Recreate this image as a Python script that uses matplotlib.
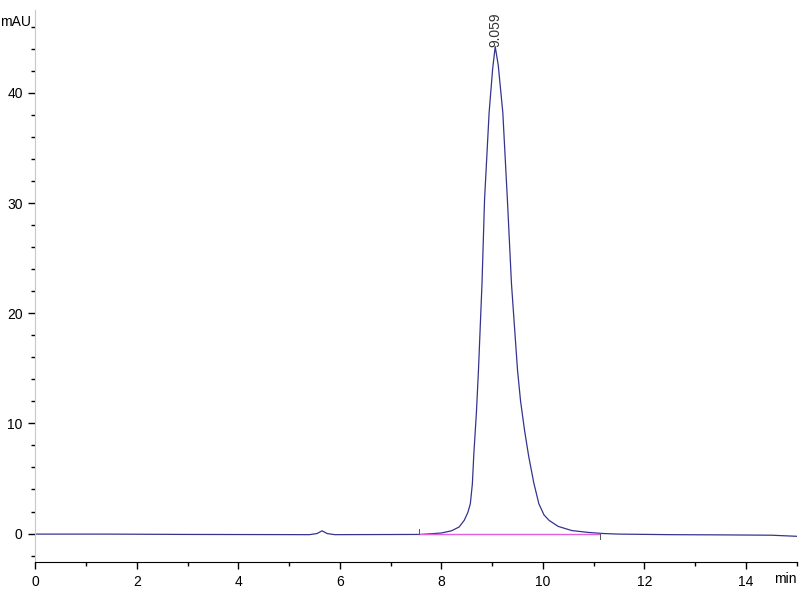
import matplotlib.pyplot as plt
from matplotlib.ticker import MultipleLocator

plt.rcParams["font.family"] = ["Liberation Sans", "DejaVu Sans"]

# chromatogram trace (min, mAU)
time_min = [0.0, 1.4, 3.0, 5.4, 5.55, 5.65, 5.75, 5.9, 7.6, 8.0, 8.2, 8.35,
            8.45, 8.52, 8.57, 8.61, 8.64, 8.69, 8.73, 8.80, 8.85, 8.94, 9.01,
            9.06, 9.12, 9.21, 9.30, 9.38, 9.50, 9.56, 9.64, 9.72, 9.82, 9.92,
            10.02, 10.12, 10.30, 10.57, 10.9, 11.2, 11.5, 12.5, 13.5, 14.5, 15.0]
signal_mau = [-0.05, -0.05, -0.08, -0.1, 0.0, 0.25, 0.0, -0.1, -0.08, 0.05,
              0.25, 0.6, 1.2, 1.9, 2.7, 4.5, 7.3, 11.0, 14.8, 22.7, 30.3, 38.2,
              42.2, 44.2, 42.5, 38.2, 30.3, 22.7, 14.8, 12.0, 9.3, 7.0, 4.6,
              2.7, 1.7, 1.2, 0.65, 0.27, 0.1, 0.0, -0.05, -0.1, -0.12, -0.15, -0.25]

# integration baseline and peak label
base_start, base_end = 7.56, 11.12
base_level = -0.05
peak_rt = 9.059
peak_height = 44.2

fig = plt.figure(figsize=(8, 6), dpi=100)
ax = fig.add_axes([0.044, 0.063, 0.952, 0.92])

ax.plot(time_min, signal_mau, color="#34348f", linewidth=0.9)
ax.plot([base_start, base_end], [base_level, base_level], color="#e060e0", linewidth=1.0)
ax.plot([base_start, base_start], [base_level, 0.45], color="#555555", linewidth=0.7)
ax.plot([base_end, base_end], [base_level, -0.45], color="#555555", linewidth=0.7)

ax.text(peak_rt, peak_height, f"{peak_rt:.3f}", rotation=90,
        ha="center", va="bottom", fontsize=10, color="#333333")

ax.set_xlim(0, 15.0)
ax.set_ylim(-2.6, 47.5)

ax.xaxis.set_major_locator(MultipleLocator(2))
ax.xaxis.set_minor_locator(MultipleLocator(1))
ax.yaxis.set_major_locator(MultipleLocator(10))
ax.yaxis.set_minor_locator(MultipleLocator(2))

for side in ("top", "right"):
    ax.spines[side].set_visible(False)
ax.spines["left"].set_color("#c8c8c8")
ax.spines["bottom"].set_color("black")

ax.tick_params(axis="both", which="major", labelsize=10, length=5, width=1, pad=4)
ax.tick_params(axis="both", which="minor", length=3, width=1)
ax.tick_params(axis="y", colors="black")

fig.text(0.0, 0.963, "mAU", fontsize=10, ha="left", va="center")
fig.text(0.982, 0.035, "min", fontsize=10, ha="center", va="center")

fig.savefig("out.png", dpi=100)
